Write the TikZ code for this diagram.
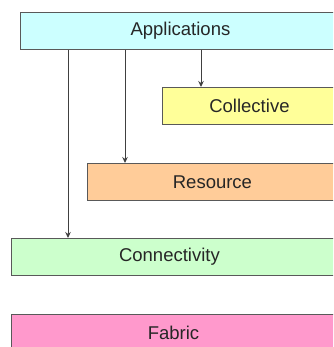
\documentclass[tikz,border=0pt]{standalone}
\usepackage{fontspec}
\setmainfont{Liberation Sans}
\usetikzlibrary{arrows.meta}

\definecolor{appcol}{HTML}{CCFFFF}
\definecolor{collcol}{HTML}{FFFF99}
\definecolor{rescol}{HTML}{FFCC99}
\definecolor{conncol}{HTML}{CCFFCC}
\definecolor{fabcol}{HTML}{FF99CC}

\tikzset{
	layer/.style={draw=black!65, line width=0.9pt, anchor=north west, minimum height=37pt, inner sep=0pt, font=\fontsize{18.5}{21}\selectfont, text=black!85},
	arr/.style={draw=black!75, line width=0.9pt, -{Stealth[length=6pt, width=5.5pt]}}
}

\begin{document}
\begin{tikzpicture}[x=1pt, y=-1pt]
	\useasboundingbox (0,0) rectangle (333,347);
	\clip (0,0) rectangle (333,347);
	% layers
	\node[layer, fill=appcol, minimum width=320pt] (app) at (20,12) {Applications};
	\node[layer, fill=collcol, minimum width=174pt] (coll) at (162,87) {Collective};
	\node[layer, fill=rescol, minimum width=250pt] (res) at (87,163) {Resource};
	\node[layer, fill=conncol, minimum width=332pt] (conn) at (11,238) {\hspace*{-16pt}Connectivity};
	\node[layer, fill=fabcol, minimum width=332pt, minimum height=40pt] (fab) at (11,314) {\raisebox{3pt}{\hspace*{-8pt}Fabric}};
	% calls from the top layer
	\draw[arr] ([xshift=48pt]app.south west) -- ([xshift=48pt]app.south west |- conn.north);
	\draw[arr] ([xshift=105pt]app.south west) -- ([xshift=105pt]app.south west |- res.north);
	\draw[arr] ([xshift=181pt]app.south west) -- ([xshift=181pt]app.south west |- coll.north);
\end{tikzpicture}
\end{document}
